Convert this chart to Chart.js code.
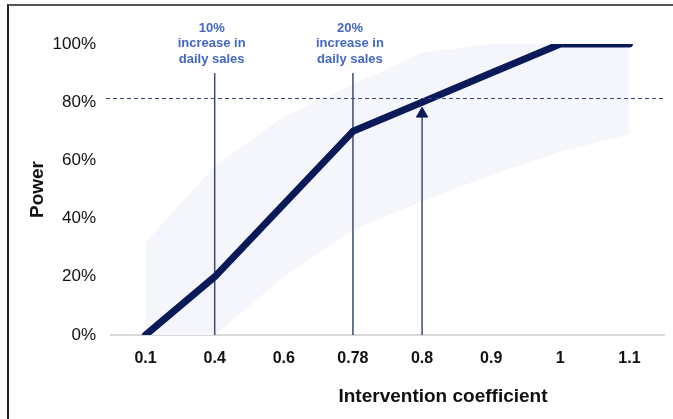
<!DOCTYPE html>
<html>
<head>
<meta charset="utf-8">
<script src="https://cdn.jsdelivr.net/npm/chart.js@4.4.0/dist/chart.umd.min.js"></script>
<style>
    body { margin: 0; background: #fff; }
    #wrap { position: relative; width: 673px; height: 419px; }
    #frame {
        position: absolute; left: 7px; top: 4px; right: 0; bottom: 0;
        border-left: 2px solid #222; border-top: 2px solid #555;
        pointer-events: none;
    }
</style>
</head>
<body>
<div id="wrap">
    <canvas id="power-chart" width="673" height="419"></canvas>
    <div id="frame"></div>
</div>
<script>
const categories = ['0.1', '0.4', '0.6', '0.78', '0.8', '0.9', '1', '1.1'];
const powerValues = [0, 20, 45, 70, 80, 90, 100, 100];
const bandLower = [0, 0, 20, 36, 46, 55, 63, 69];
const bandUpper = [32, 58, 75, 86, 97, 100, 100, 100];
const yTicks = [0, 20, 40, 60, 80, 100];

const markerCategories = ['0.4', '0.78'];
const markerTop = 90;
const markerLabels = [
    ['10%', 'increase in', 'daily sales'],
    ['20%', 'increase in', 'daily sales']
];
const arrowCategory = '0.8';
const arrowTip = 76;
const targetPower = 81.3;

const navy = '#0a1a58';
const FONT = '"Liberation Sans", Arial, sans-serif';
Chart.defaults.font.family = FONT;

// dashed target line, annotation texts and x title
const extrasPlugin = {
    id: 'extras',
    afterDatasetsDraw(chart) {
        const {ctx, chartArea, scales: {x, y}} = chart;
        ctx.save();
        ctx.strokeStyle = '#34497e';
        ctx.lineWidth = 1;
        ctx.setLineDash([4, 3]);
        const yy = Math.round(y.getPixelForValue(targetPower)) + 0.5;
        ctx.beginPath();
        ctx.moveTo(chartArea.left - 5, yy);
        ctx.lineTo(chartArea.right, yy);
        ctx.stroke();
        ctx.setLineDash([]);

        ctx.fillStyle = '#4466c4';
        ctx.font = 'bold 13px ' + FONT;
        ctx.textAlign = 'center';
        ctx.textBaseline = 'middle';
        markerCategories.forEach((cat, i) => {
            const px = x.getPixelForValue(categories.indexOf(cat)) - 3;
            markerLabels[i].forEach((txt, j) => {
                ctx.fillText(txt, px, chartArea.top - 16 + j * 15.5);
            });
        });
        ctx.restore();
    },
    afterDraw(chart) {
        const {ctx} = chart;
        ctx.save();
        ctx.fillStyle = '#111';
        ctx.font = 'bold 19px ' + FONT;
        ctx.textAlign = 'center';
        ctx.textBaseline = 'middle';
        ctx.fillText('Intervention coefficient', 443, 397);
        ctx.restore();
    }
};

const markerSets = markerCategories.map(cat => ({
    data: [{x: cat, y: 0}, {x: cat, y: markerTop}],
    borderColor: '#3b4a7a',
    borderWidth: 1.5,
    pointRadius: 0,
    order: 5
}));

new Chart(document.getElementById('power-chart'), {
    type: 'line',
    data: {
        labels: categories,
        datasets: [
            {
                label: 'Power',
                data: powerValues,
                borderColor: navy,
                borderWidth: 7,
                borderCapStyle: 'round',
                borderJoinStyle: 'round',
                pointRadius: 0,
                tension: 0,
                order: 0
            },
            {
                data: bandLower,
                borderWidth: 0,
                pointRadius: 0,
                fill: false,
                order: 10
            },
            {
                data: bandUpper,
                borderWidth: 0,
                pointRadius: 0,
                backgroundColor: '#f5f6fb',
                fill: '-1',
                order: 10
            },
            ...markerSets,
            {
                data: [{x: arrowCategory, y: 0}, {x: arrowCategory, y: arrowTip}],
                borderColor: '#3b4a7a',
                borderWidth: 1.5,
                pointStyle: 'triangle',
                pointRadius: [0, 6.5],
                pointBackgroundColor: navy,
                pointBorderColor: navy,
                pointBorderWidth: 1,
                order: 4
            }
        ]
    },
    options: {
        responsive: false,
        animation: false,
        events: [],
        layout: { padding: { top: 44, right: 9, bottom: 0, left: 0 } },
        plugins: {
            legend: { display: false },
            tooltip: { enabled: false },
            filler: { propagate: false }
        },
        scales: {
            x: {
                offset: true,
                grid: { display: false, drawTicks: false, tickLength: 0 },
                border: { display: true, color: '#d9d9d9', width: 2 },
                ticks: {
                    color: '#111',
                    padding: 14,
                    font: { size: 16, weight: 'bold' }
                },
                afterFit(scale) { scale.height = 84; }
            },
            y: {
                min: 0,
                max: 100,
                grid: { display: false, drawTicks: false, tickLength: 0 },
                border: { display: false },
                afterBuildTicks(scale) { scale.ticks = yTicks.map(v => ({value: v})); },
                ticks: {
                    color: '#111',
                    padding: 15,
                    font: { size: 17 },
                    callback: v => v + '%'
                },
                title: {
                    display: true,
                    text: 'Power',
                    color: '#111',
                    font: { size: 19, weight: 'bold' },
                    padding: { top: 26, bottom: 0 }
                },
                afterFit(scale) { scale.width = 111; }
            }
        }
    },
    plugins: [extrasPlugin]
});
</script>
</body>
</html>
